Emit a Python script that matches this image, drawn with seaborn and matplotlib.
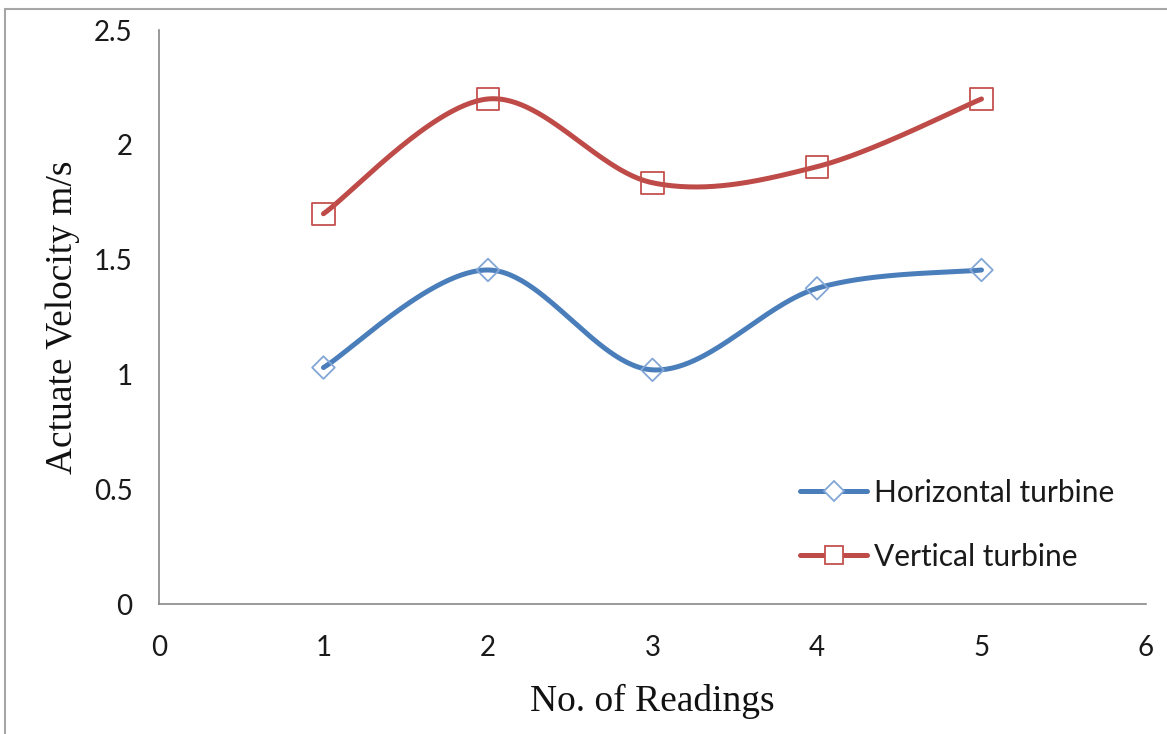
import numpy as np
import pandas as pd
import seaborn as sns
import matplotlib
matplotlib.use("Agg")
import matplotlib.pyplot as plt
from matplotlib.lines import Line2D

# Readings
readings = [1, 2, 3, 4, 5]
horizontal = [1.03, 1.455, 1.02, 1.375, 1.455]
vertical = [1.70, 2.20, 1.835, 1.905, 2.20]
series_names = ["Horizontal turbine", "Vertical turbine"]

x_ticks = [0, 1, 2, 3, 4, 5, 6]
y_ticks = [0, 0.5, 1, 1.5, 2, 2.5]

line_colors = ["#4A7EBB", "#BE4B48"]
edge_colors = ["#82A6D6", "#C4504D"]
markers = ["D", "s"]
marker_sizes = [11.5, 16]


def smooth_curve(xs, ys, n=60):
    """Cubic Bezier smoothing through every point (Catmull-Rom style tangents)."""
    p = np.column_stack([xs, ys]).astype(float)
    ext = np.vstack([p[0], p, p[-1]])
    t = np.linspace(0, 1, n)[:, None]
    out = []
    for i in range(len(p) - 1):
        p0, p1, p2, p3 = ext[i], ext[i + 1], ext[i + 2], ext[i + 3]
        c1 = p1 + (p2 - p0) / 6.0
        c2 = p2 - (p3 - p1) / 6.0
        seg = ((1 - t) ** 3) * p1 + 3 * ((1 - t) ** 2) * t * c1 + 3 * (1 - t) * t ** 2 * c2 + t ** 3 * p2
        out.append(seg if i == 0 else seg[1:])
    pts = np.vstack(out)
    return pts[:, 0], pts[:, 1]


sns.set_theme(style="white")
plt.rcParams["font.family"] = ["Lato", "DejaVu Sans"]

fig = plt.figure(figsize=(11.67, 7.34), dpi=100)
ax = fig.add_axes([0.1362, 0.1771, 0.982 - 0.1362, 0.959 - 0.1771])

for vals, name, lc, ec, mk, ms in zip([horizontal, vertical], series_names,
                                      line_colors, edge_colors, markers, marker_sizes):
    cx, cy = smooth_curve(readings, vals)
    sns.lineplot(x=cx, y=cy, sort=False, estimator=None, color=lc, lw=3.6,
                 ax=ax, zorder=3, solid_capstyle="round")
    sns.scatterplot(x=readings, y=vals, marker=mk, s=ms ** 2, facecolor="none",
                    edgecolor=ec, linewidth=1.3, ax=ax, zorder=4)

ax.set_xlim(0, 6)
ax.set_ylim(0, 2.5)
ax.set_xticks(x_ticks)
ax.set_yticks(y_ticks)
ax.set_xticklabels([str(v) for v in x_ticks])
ax.set_yticklabels([f"{v:g}" for v in y_ticks])

for side in ["top", "right"]:
    ax.spines[side].set_visible(False)
for side in ["left", "bottom"]:
    ax.spines[side].set_color("#888888")
    ax.spines[side].set_linewidth(1.2)

ax.tick_params(axis="both", which="major", direction="out", length=7, width=1.1,
               color="#888888", labelsize=20, labelcolor="#1a1a1a")
ax.tick_params(axis="y", pad=12)
ax.tick_params(axis="x", pad=15)

ax.set_xlabel("No. of Readings", family="Liberation Serif", fontsize=27,
              color="#111111", labelpad=17)
ax.set_ylabel("Actuate Velocity m/s", family="Liberation Serif", fontsize=27,
              color="#111111", labelpad=10)

handles = [
    Line2D([0], [0], color=lc, lw=3.6, marker=mk, markersize=ms * (0.85 if mk == "D" else 0.8),
           markerfacecolor="white", markeredgecolor=ec, markeredgewidth=1.3)
    for lc, ec, mk, ms in zip(line_colors, edge_colors, markers, marker_sizes)
]
leg = ax.legend(handles, series_names, loc="upper left", bbox_to_anchor=(0.6494, 0.218),
                frameon=False, fontsize=21.5, handlelength=2.25, handletextpad=0.22,
                labelspacing=1.2, borderpad=0, borderaxespad=0)
for t in leg.get_texts():
    t.set_color("#1a1a1a")

# outer chart border (left and top edges)
fig.add_artist(Line2D([5 / 1167, 5 / 1167], [0, 1 - 9 / 734], transform=fig.transFigure,
                      color="#A6A6A6", lw=1.5))
fig.add_artist(Line2D([5 / 1167, 1], [1 - 9 / 734, 1 - 9 / 734], transform=fig.transFigure,
                      color="#A6A6A6", lw=1.5))

fig.savefig("out.png", dpi=100, facecolor="white")
